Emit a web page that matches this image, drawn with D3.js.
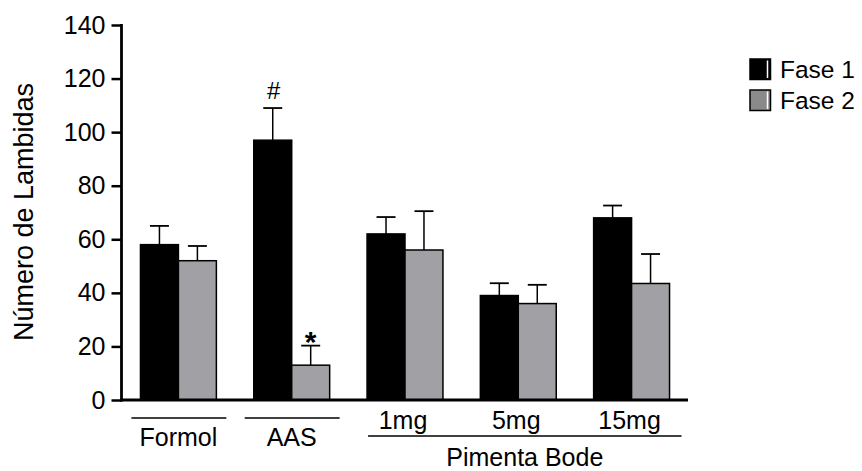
<!DOCTYPE html>
<html>
<head>
<meta charset="utf-8">
<script src="https://cdn.jsdelivr.net/npm/d3@7/dist/d3.min.js"></script>
<style>
  html, body { margin: 0; padding: 0; background: #fff; }
  svg { display: block; font-family: Arial, "Liberation Sans", sans-serif; }
</style>
</head>
<body>
<svg id="chart" width="862" height="471"></svg>
<script>
// ---- data ----
const categories = ["Formol", "AAS", "1mg", "5mg", "15mg"];
const series = ["Fase 1", "Fase 2"];
const fase1Mean = [58, 97, 62, 39, 68];
const fase1Err  = [7, 12, 6.3, 4.6, 4.6];
const fase2Mean = [52, 13, 56, 36, 43.5];
const fase2Err  = [5.5, 7.3, 14.5, 7, 11];
const yTicks = [0, 20, 40, 60, 80, 100, 120, 140];
const markers = [{ cat: "AAS", s: "Fase 1", text: "#" }, { cat: "AAS", s: "Fase 2", text: "*" }];
const groups = [
  { label: "Formol", members: ["Formol"] },
  { label: "AAS", members: ["AAS"] },
  { label: "Pimenta Bode", members: ["1mg", "5mg", "15mg"] }
];
const colors = { "Fase 1": "#000000", "Fase 2": "#a1a1a5" };
const legendColors = { "Fase 1": "#000000", "Fase 2": "#8a8a8a" };

const data = categories.map((c, i) => ({
  cat: c,
  vals: [
    { s: "Fase 1", v: fase1Mean[i], e: fase1Err[i] },
    { s: "Fase 2", v: fase2Mean[i], e: fase2Err[i] }
  ]
}));

const svg = d3.select("#chart");
const y = d3.scaleLinear().domain([0, 140]).range([400, 25]);
const x0 = d3.scaleBand().domain(categories).range([122, 688]).paddingInner(0.33).paddingOuter(0.163);
const x1 = d3.scaleBand().domain(series).range([0, x0.bandwidth()]).padding(0);

// bars
const g = svg.append("g");
const grp = g.selectAll("g.grp").data(data).enter().append("g")
  .attr("transform", d => `translate(${x0(d.cat)},0)`);
grp.selectAll("rect").data(d => d.vals).enter().append("rect")
  .attr("x", d => x1(d.s))
  .attr("y", d => y(d.v))
  .attr("width", x1.bandwidth())
  .attr("height", d => y(0) - y(d.v))
  .attr("fill", d => colors[d.s])
  .attr("stroke", "#000").attr("stroke-width", 1.5);

// error bars (upper only)
const capW = x1.bandwidth() / 2;
grp.selectAll("g.err").data(d => d.vals).enter().append("g").each(function (d) {
  const cx = x1(d.s) + x1.bandwidth() / 2;
  const s = d3.select(this);
  s.append("line").attr("x1", cx).attr("x2", cx).attr("y1", y(d.v)).attr("y2", y(d.v + d.e))
    .attr("stroke", "#000").attr("stroke-width", 1.5);
  s.append("line").attr("x1", cx - capW / 2).attr("x2", cx + capW / 2).attr("y1", y(d.v + d.e)).attr("y2", y(d.v + d.e))
    .attr("stroke", "#000").attr("stroke-width", 1.8);
});

// significance markers
markers.forEach(m => {
  const d = data.find(dd => dd.cat === m.cat).vals.find(vv => vv.s === m.s);
  const cx = x0(m.cat) + x1(m.s) + x1.bandwidth() / 2;
  const top = y(d.v + d.e);
  if (m.text === "#") {
    svg.append("text").attr("x", cx + 1).attr("y", top - 9.5).attr("text-anchor", "middle")
      .attr("font-size", 24).text(m.text);
  } else {
    svg.append("text").attr("x", cx).attr("y", top + 6).attr("text-anchor", "middle")
      .attr("font-size", 30).attr("font-weight", "bold").text(m.text);
  }
});

// y axis
const yAxis = d3.axisLeft(y).tickValues(yTicks).tickSize(10).tickPadding(6).tickFormat(d3.format("d"));
const ya = svg.append("g").attr("transform", "translate(121.5,0)").call(yAxis);
ya.select(".domain").attr("stroke", "#000").attr("stroke-width", 2.8).attr("d", `M0,${y(140) - 1}V${y(0) + 1.5}`);
ya.selectAll(".tick line").attr("stroke", "#000").attr("stroke-width", 2.5);
ya.selectAll(".tick text").attr("font-size", 25).attr("fill", "#000").attr("font-family", "Arial, 'Liberation Sans', sans-serif");

// x axis baseline
svg.append("line").attr("x1", 120).attr("x2", x0.range()[1]).attr("y1", y(0)).attr("y2", y(0))
  .attr("stroke", "#000").attr("stroke-width", 3);

// group labels
const step = x0.step();
groups.forEach(gr => {
  const first = gr.members[0], last = gr.members[gr.members.length - 1];
  if (gr.members.length === 1) {
    const cx = x0(first) + x0.bandwidth() / 2;
    const l = x0(first) - 0.08 * step, r = x0(last) + x0.bandwidth() + 0.088 * step;
    svg.append("line").attr("x1", l).attr("x2", r).attr("y1", 418).attr("y2", 418)
      .attr("stroke", "#000").attr("stroke-width", 1.4);
    svg.append("text").attr("x", cx).attr("y", 446).attr("text-anchor", "middle")
      .attr("font-size", 25).text(gr.label);
  } else {
    const l = x0(first) + 1, r = x0(last) + x0.bandwidth() + 12;
    gr.members.forEach(mm => {
      svg.append("text").attr("x", x0(mm) + x0.bandwidth() / 2 - 2).attr("y", 428.5).attr("text-anchor", "middle")
        .attr("font-size", 25).text(mm);
    });
    svg.append("line").attr("x1", l).attr("x2", r).attr("y1", 436).attr("y2", 436)
      .attr("stroke", "#000").attr("stroke-width", 1.4);
    svg.append("text").attr("x", (l + r) / 2).attr("y", 465.5).attr("text-anchor", "middle")
      .attr("font-size", 25).text(gr.label);
  }
});

// y label
svg.append("text").attr("transform", "translate(33,212) rotate(-90)").attr("text-anchor", "middle")
  .attr("font-size", 27).text("Número de Lambidas");

// legend
series.forEach((s, i) => {
  const ly = 59 + i * 31;
  svg.append("rect").attr("x", 750).attr("y", ly).attr("width", 20.5).attr("height", 20.5)
    .attr("fill", legendColors[s]).attr("stroke", "#000").attr("stroke-width", 1.5);
  svg.append("line").attr("x1", 767.5).attr("x2", 767.5).attr("y1", ly + 1.5).attr("y2", ly + 19)
    .attr("stroke", "#fff").attr("stroke-width", 1.5);
  svg.append("text").attr("x", 780).attr("y", ly + 18.5).attr("font-size", 24.5).text(s);
});
</script>
</body>
</html>
